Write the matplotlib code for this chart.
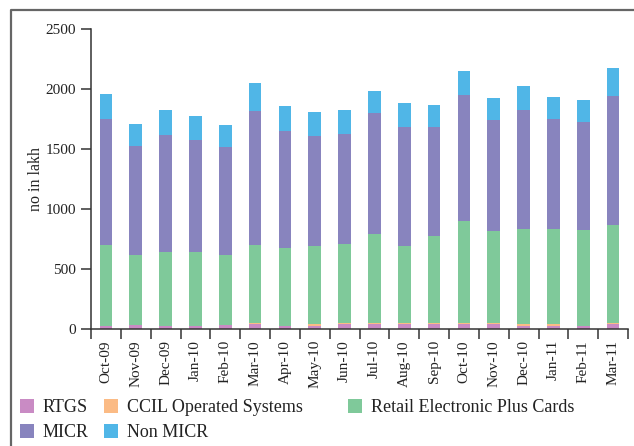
import matplotlib
matplotlib.use("Agg")
import matplotlib.pyplot as plt
import numpy as np
from matplotlib.lines import Line2D
from matplotlib.patches import Patch

MONTHS = ["Oct-09", "Nov-09", "Dec-09", "Jan-10", "Feb-10", "Mar-10", "Apr-10",
          "May-10", "Jun-10", "Jul-10", "Aug-10", "Sep-10", "Oct-10", "Nov-10",
          "Dec-10", "Jan-11", "Feb-11", "Mar-11"]

# volumes, no in lakh
RTGS = [25, 30, 25, 25, 30, 45, 25, 25, 45, 45, 45, 45, 45, 45, 25, 25, 25, 45]
CCIL = [2, 2, 2, 2, 2, 2, 2, 20, 2, 2, 2, 2, 2, 2, 20, 20, 2, 2]
RETAIL = [673, 585, 615, 615, 585, 653, 648, 647, 661, 745, 645, 728, 853, 770,
          788, 788, 798, 820]
MICR = [1050, 908, 975, 933, 900, 1117, 975, 916, 917, 1008, 991, 908, 1050, 925,
        992, 917, 900, 1075]
NON_MICR = [208, 183, 208, 200, 183, 233, 208, 200, 200, 183, 200, 184, 200, 183,
            200, 183, 183, 233]

series = [
    ("RTGS", RTGS, "#c98bc4"),
    ("CCIL Operated Systems", CCIL, "#fbbb85"),
    ("Retail Electronic Plus Cards", RETAIL, "#7fc99a"),
    ("MICR", MICR, "#8884be"),
    ("Non MICR", NON_MICR, "#50b6e7"),
]

plt.rcParams["font.family"] = ["Liberation Serif", "DejaVu Serif"]

W, H = 634, 446
fig = plt.figure(figsize=(W / 100, H / 100), dpi=100)
ax = fig.add_axes([91 / W, 1 - 329 / H, (628 - 91) / W, 300 / H])

x = np.arange(len(MONTHS))
bottom = np.zeros(len(MONTHS))
handles = {}
for name, vals, color in series:
    vals = np.array(vals, dtype=float)
    ax.bar(x, vals, width=0.43, bottom=bottom, color=color, linewidth=0)
    handles[name] = Patch(facecolor=color)
    bottom += vals

ax.set_xlim(-0.5, len(MONTHS) - 0.5)
ax.set_ylim(0, 2500)
ax.set_yticks(range(0, 2501, 500))
ax.set_ylabel("no in lakh", fontsize=11.5, labelpad=1, color="#222222")

# boundaries get the tick marks, bar centres get the labels
ax.set_xticks(np.arange(-0.5, len(MONTHS)), labels=[])
ax.set_xticks(x, labels=MONTHS, minor=True)
ax.tick_params(axis="x", which="major", length=7, width=1.1, color="#333333")
ax.tick_params(axis="x", which="minor", length=0, pad=8, labelrotation=90,
               labelsize=11, labelcolor="#222222")
ax.tick_params(axis="y", length=7, width=1.1, pad=4, labelsize=11,
               color="#333333", labelcolor="#222222")

for side in ("top", "right"):
    ax.spines[side].set_visible(False)
for side in ("left", "bottom"):
    ax.spines[side].set_color("#333333")
    ax.spines[side].set_linewidth(1.1)

# legend in three separate columns
leg_kw = dict(frameon=False, loc="upper left", borderpad=0, borderaxespad=0,
              fontsize=13, handlelength=0.8, handleheight=0.8,
              handletextpad=0.45, labelspacing=0.45)
groups = [(20, ["RTGS", "MICR"]), (104, ["CCIL Operated Systems", "Non MICR"]),
          (348, ["Retail Electronic Plus Cards"])]
for left, names in groups:
    leg = fig.legend([handles[n] for n in names], names,
                     bbox_to_anchor=(left / W, 1 - 399 / H), **leg_kw)
    for t in leg.get_texts():
        t.set_color("#222222")

# outer frame
fig.add_artist(Line2D([10.5 / W, 10.5 / W, 1], [0, 1 - 10 / H, 1 - 10 / H],
                      transform=fig.transFigure, color="#666666", lw=1.6))

fig.savefig("out.png", dpi=100)
